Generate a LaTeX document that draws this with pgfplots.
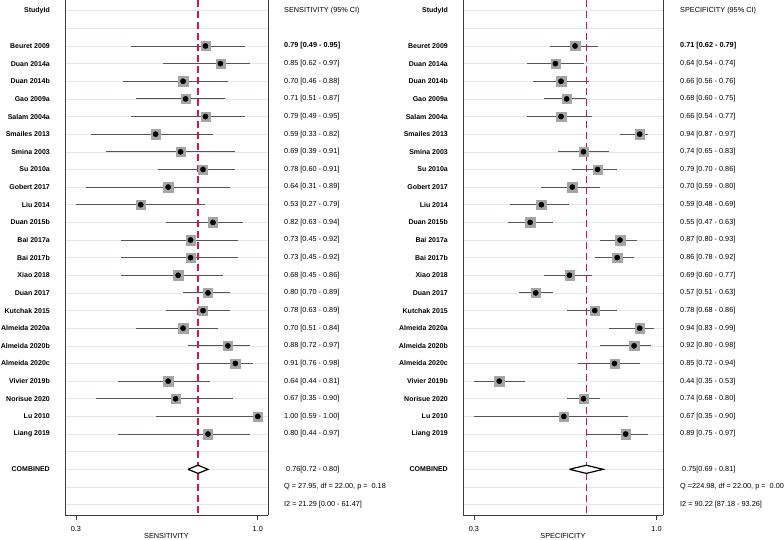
\documentclass[border=0pt]{standalone}
\usepackage{pgfplots}
\pgfplotsset{compat=1.18}
\usepackage{pgfplotstable}
\usepackage{fontspec}
\setmainfont{Liberation Sans}
\definecolor{gridc}{RGB}{222,234,238}
\definecolor{axisc}{RGB}{60,60,60}
\definecolor{refred}{RGB}{220,20,70}
\definecolor{cic}{RGB}{85,85,85}
\definecolor{sqc}{RGB}{165,165,165}
\newcommand{\fs}{\fontsize{7.3}{8.5}\selectfont}
\newcommand{\fn}{\fontsize{7}{8}\selectfont\bfseries}

\pgfplotstableread{
row est lo hi
2 0.79 0.49 0.95
3 0.85 0.62 0.97
4 0.70 0.46 0.88
5 0.71 0.51 0.87
6 0.79 0.49 0.95
7 0.59 0.33 0.82
8 0.69 0.39 0.91
9 0.78 0.60 0.91
10 0.64 0.31 0.89
11 0.53 0.27 0.79
12 0.82 0.63 0.94
13 0.73 0.45 0.92
14 0.73 0.45 0.92
15 0.68 0.45 0.86
16 0.80 0.70 0.89
17 0.78 0.63 0.89
18 0.70 0.51 0.84
19 0.88 0.72 0.97
20 0.91 0.76 0.98
21 0.64 0.44 0.81
22 0.67 0.35 0.90
23 1.00 0.59 1.00
24 0.80 0.44 0.97
}\sensdata

\pgfplotstableread{
row est lo hi
2 0.71 0.62 0.79
3 0.64 0.54 0.74
4 0.66 0.56 0.76
5 0.68 0.60 0.75
6 0.66 0.54 0.77
7 0.94 0.87 0.97
8 0.74 0.65 0.83
9 0.79 0.70 0.86
10 0.70 0.59 0.80
11 0.59 0.48 0.69
12 0.55 0.47 0.63
13 0.87 0.80 0.93
14 0.86 0.78 0.92
15 0.69 0.60 0.77
16 0.57 0.51 0.63
17 0.78 0.68 0.86
18 0.94 0.83 0.99
19 0.92 0.80 0.98
20 0.85 0.72 0.94
21 0.44 0.35 0.53
22 0.74 0.68 0.80
23 0.67 0.35 0.90
24 0.89 0.75 0.97
}\specdata

\pgfplotsset{forest/.style={
  scale only axis, height=515pt,
  y dir=reverse, ymin=-0.607, ymax=28.59,
  ytick={0,...,28}, yticklabels={}, yticklabel style={opacity=0},
  ymajorgrids, grid style={draw=gridc, line width=0.6pt},
  axis x line*=bottom, axis y line*=box,
  axis line style={draw=axisc, line width=0.9pt},
  ytick style={draw=none},
  tick align=outside, xtick style={draw=axisc, line width=0.8pt}, major tick length=5pt,
  xticklabel style={font=\fs, yshift=-2.5pt},
  label style={font=\fs},
  x label style={at={(axis description cs:0.5,0)}, anchor=center, yshift=-21pt},
  xticklabels={0.3,1.0},
  clip=false,
}}
\newcommand{\vrow}[3][16pt]{\node[anchor=west, font=\fs, inner sep=0pt, xshift=#1] at ({rel axis cs:1,0}|-{axis cs:0.5,#2}) {#3};}
\newcommand{\nrow}[2]{\node[anchor=east, font=\fn, inner sep=0pt, xshift=-15pt] at ({rel axis cs:0,0}|-{axis cs:0.5,#1}) {#2};}
\newcommand{\names}{%
  \nrow{0}{StudyId}
  \nrow{2}{Beuret 2009}
  \nrow{3}{Duan 2014a}
  \nrow{4}{Duan 2014b}
  \nrow{5}{Gao 2009a}
  \nrow{6}{Salam 2004a}
  \nrow{7}{Smailes 2013}
  \nrow{8}{Smina 2003}
  \nrow{9}{Su 2010a}
  \nrow{10}{Gobert 2017}
  \nrow{11}{Liu 2014}
  \nrow{12}{Duan 2015b}
  \nrow{13}{Bai 2017a}
  \nrow{14}{Bai 2017b}
  \nrow{15}{Xiao 2018}
  \nrow{16}{Duan 2017}
  \nrow{17}{Kutchak 2015}
  \nrow{18}{Almeida 2020a}
  \nrow{19}{Almeida 2020b}
  \nrow{20}{Almeida 2020c}
  \nrow{21}{Vivier 2019b}
  \nrow{22}{Norisue 2020}
  \nrow{23}{Lu 2010}
  \nrow{24}{Liang 2019}
  \nrow{26}{COMBINED}}

\begin{document}
\begin{tikzpicture}
\path[use as bounding box] (0pt,0pt) rectangle (784pt,540pt);

\begin{axis}[forest, at={(65pt,25pt)}, anchor=south west, width=203pt,
  xmin=0.226, xmax=1.041, xtick={0.27,1}, xlabel={SENSITIVITY}]
  \addplot[only marks, mark=none, error bars/.cd, x dir=both, x explicit, error mark=none,
    error bar style={draw=cic, line width=0.9pt}]
    table[x=est, y=row, x error plus expr=\thisrow{hi}-\thisrow{est}, x error minus expr=\thisrow{est}-\thisrow{lo}] {\sensdata};
  \addplot[draw=refred, line width=1.4pt, dash pattern=on 7pt off 4pt] coordinates {(0.76,-0.607) (0.76,28.59)};
  \addplot[only marks, mark=square*, mark size=4.7pt, mark options={fill=sqc, draw=sqc}] table[x=est, y=row] {\sensdata};
  \addplot[only marks, mark=*, mark size=2.6pt, mark options={fill=black, draw=black}] table[x=est, y=row] {\sensdata};
  \addplot[draw=black, fill=white, line width=1.2pt] coordinates {(0.72,26) (0.76,25.77) (0.80,26) (0.76,26.23) (0.72,26)};
  \names
  \vrow{0}{SENSITIVITY (95\% CI)}
  \vrow{2}{\bfseries 0.79 [0.49 - 0.95]}
  \vrow{3}{0.85 [0.62 - 0.97]}
  \vrow{4}{0.70 [0.46 - 0.88]}
  \vrow{5}{0.71 [0.51 - 0.87]}
  \vrow{6}{0.79 [0.49 - 0.95]}
  \vrow{7}{0.59 [0.33 - 0.82]}
  \vrow{8}{0.69 [0.39 - 0.91]}
  \vrow{9}{0.78 [0.60 - 0.91]}
  \vrow{10}{0.64 [0.31 - 0.89]}
  \vrow{11}{0.53 [0.27 - 0.79]}
  \vrow{12}{0.82 [0.63 - 0.94]}
  \vrow{13}{0.73 [0.45 - 0.92]}
  \vrow{14}{0.73 [0.45 - 0.92]}
  \vrow{15}{0.68 [0.45 - 0.86]}
  \vrow{16}{0.80 [0.70 - 0.89]}
  \vrow{17}{0.78 [0.63 - 0.89]}
  \vrow{18}{0.70 [0.51 - 0.84]}
  \vrow{19}{0.88 [0.72 - 0.97]}
  \vrow{20}{0.91 [0.76 - 0.98]}
  \vrow{21}{0.64 [0.44 - 0.81]}
  \vrow{22}{0.67 [0.35 - 0.90]}
  \vrow{23}{1.00 [0.59 - 1.00]}
  \vrow{24}{0.80 [0.44 - 0.97]}
  \vrow{26}{\hspace{2pt}0.76[0.72 - 0.80]}
  \vrow{27}{Q = 27.95, df = 22.00, p =\ \ 0.18}
  \vrow{28}{I2 = 21.29 [0.00 - 61.47]}
\end{axis}

\begin{axis}[forest, at={(463pt,25pt)}, anchor=south west, width=200pt,
  xmin=0.311, xmax=1.023, xtick={0.35,1}, xlabel={SPECIFICITY}]
  \addplot[only marks, mark=none, error bars/.cd, x dir=both, x explicit, error mark=none,
    error bar style={draw=cic, line width=0.9pt}]
    table[x=est, y=row, x error plus expr=\thisrow{hi}-\thisrow{est}, x error minus expr=\thisrow{est}-\thisrow{lo}] {\specdata};
  \addplot[draw=refred, line width=1.4pt, dash pattern=on 7pt off 4pt] coordinates {(0.75,-0.607) (0.75,28.59)};
  \addplot[only marks, mark=square*, mark size=4.7pt, mark options={fill=sqc, draw=sqc}] table[x=est, y=row] {\specdata};
  \addplot[only marks, mark=*, mark size=2.6pt, mark options={fill=black, draw=black}] table[x=est, y=row] {\specdata};
  \addplot[draw=black, fill=white, line width=1.2pt] coordinates {(0.69,26) (0.75,25.77) (0.81,26) (0.75,26.23) (0.69,26)};
  \names
  \vrow[17pt]{0}{SPECIFICITY (95\% CI)}
  \vrow[17pt]{2}{\bfseries 0.71 [0.62 - 0.79]}
  \vrow[17pt]{3}{0.64 [0.54 - 0.74]}
  \vrow[17pt]{4}{0.66 [0.56 - 0.76]}
  \vrow[17pt]{5}{0.68 [0.60 - 0.75]}
  \vrow[17pt]{6}{0.66 [0.54 - 0.77]}
  \vrow[17pt]{7}{0.94 [0.87 - 0.97]}
  \vrow[17pt]{8}{0.74 [0.65 - 0.83]}
  \vrow[17pt]{9}{0.79 [0.70 - 0.86]}
  \vrow[17pt]{10}{0.70 [0.59 - 0.80]}
  \vrow[17pt]{11}{0.59 [0.48 - 0.69]}
  \vrow[17pt]{12}{0.55 [0.47 - 0.63]}
  \vrow[17pt]{13}{0.87 [0.80 - 0.93]}
  \vrow[17pt]{14}{0.86 [0.78 - 0.92]}
  \vrow[17pt]{15}{0.69 [0.60 - 0.77]}
  \vrow[17pt]{16}{0.57 [0.51 - 0.63]}
  \vrow[17pt]{17}{0.78 [0.68 - 0.86]}
  \vrow[17pt]{18}{0.94 [0.83 - 0.99]}
  \vrow[17pt]{19}{0.92 [0.80 - 0.98]}
  \vrow[17pt]{20}{0.85 [0.72 - 0.94]}
  \vrow[17pt]{21}{0.44 [0.35 - 0.53]}
  \vrow[17pt]{22}{0.74 [0.68 - 0.80]}
  \vrow[17pt]{23}{0.67 [0.35 - 0.90]}
  \vrow[17pt]{24}{0.89 [0.75 - 0.97]}
  \vrow[17pt]{26}{\hspace{2pt}0.75[0.69 - 0.81]}
  \vrow[17pt]{27}{Q =224.98, df = 22.00, p =\ \ 0.00}
  \vrow[17pt]{28}{I2 = 90.22 [87.18 - 93.26]}
\end{axis}
\end{tikzpicture}
\end{document}
